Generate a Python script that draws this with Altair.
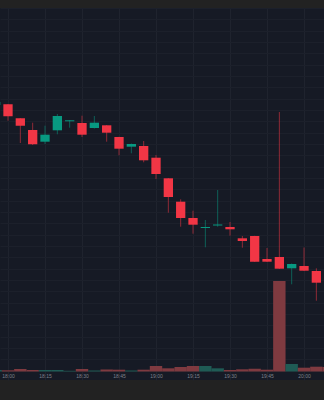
import altair as alt
import pandas as pd

times = ["17:55","18:00","18:05","18:10","18:15","18:20","18:25","18:30","18:35","18:40",
         "18:45","18:50","18:55","19:00","19:05","19:10","19:15","19:20","19:25","19:30",
         "19:35","19:40","19:45","19:50","19:55","20:00","20:05","20:10"]
opens  = [90.30,90.37,88.97,87.80,86.63,87.77,88.67,88.50,88.00,88.27,
          87.10,86.13,86.20,85.03,82.97,80.63,79.00,78.00,78.25,78.10,
          76.97,77.20,74.90,75.10,73.97,74.20,73.70,72.47]
highs  = [90.75,90.40,89.00,88.53,88.23,89.40,88.80,89.23,89.20,88.30,
          87.12,86.45,86.70,85.30,83.00,80.87,79.73,78.80,81.80,78.60,
          77.20,77.22,76.00,89.60,74.45,76.05,73.97,72.50]
lows   = [90.20,88.73,86.50,86.30,86.40,87.37,88.03,87.10,87.95,86.63,
          85.27,85.47,84.57,82.90,79.53,78.13,77.43,76.07,78.13,77.23,
          76.03,74.60,74.60,73.90,72.37,73.70,70.73,69.50]
closes = [90.60,89.17,88.23,86.37,87.33,89.20,88.77,87.33,88.53,87.53,
          85.93,86.40,84.77,83.40,81.10,79.00,78.33,78.10,78.35,77.87,
          76.70,74.63,74.63,73.93,74.40,73.73,72.53,70.30]
volumes = [15,12,25,15,15,15,7,25,10,20,
           18,10,18,55,32,45,55,55,32,15,
           22,28,18,905,75,38,48,45]

tick_minutes = [0, 15, 30, 45, 60, 75, 90, 105, 120]
tick_labels = ["18:00","18:15","18:30","18:45","19:00","19:15","19:30","19:45","20:00"]

def to_min(t):
    h, m = t.split(":")
    return (int(h) - 18) * 60 + int(m)

df = pd.DataFrame({
    "t": [to_min(t) for t in times],
    "label": times,
    "open": opens, "high": highs, "low": lows, "close": closes, "volume": volumes,
})
df["dir"] = ["up" if c >= o else "down" for o, c in zip(df["open"], df["close"])]

label_expr = ""
for v, l in zip(tick_minutes, tick_labels):
    label_expr += f"datum.value == {v} ? '{l}' : "
label_expr += "''"

xscale = alt.Scale(domain=[-3.243, 128.1], nice=False, zero=False, padding=0)
xaxis = alt.Axis(values=tick_minutes, labelExpr=label_expr, grid=True, gridColor="#1f232e",
                 ticks=False, domain=False, labelFontSize=5, labelFont="Liberation Sans",
                 labelColor="#7d808a", labelPadding=1, offset=-8, title=None)

price_grid = [round(100 - k * 1.133, 3) for k in range(0, 34)]
yscale = alt.Scale(domain=[62.8, 100], nice=False, zero=False, padding=0)
yaxis = alt.Axis(values=price_grid, grid=True, gridColor="#1c202b", labels=False,
                 ticks=False, domain=False, title=None)

up_down = ["up", "down"]
body_colors = alt.Scale(domain=up_down, range=["#089981", "#f23645"])

base = alt.Chart(df)

vol = base.mark_bar(size=12.4, clip=True).encode(
    x=alt.X("t:Q", scale=xscale, axis=xaxis),
    y=alt.Y("volume:Q", scale=alt.Scale(domain=[-85, 3635], nice=False, padding=0), axis=None),
    color=alt.Color("dir:N", scale=alt.Scale(domain=up_down, range=["#1f5b55", "#7f3a40"]), legend=None),
)

wick = base.mark_rule(strokeWidth=1, opacity=0.55, clip=True).encode(
    x=alt.X("t:Q", scale=xscale, axis=xaxis),
    y=alt.Y("low:Q", scale=yscale, axis=yaxis),
    y2="high:Q",
    color=alt.Color("dir:N", scale=body_colors, legend=None),
)

body = base.mark_bar(size=9.3, clip=True).encode(
    x=alt.X("t:Q", scale=xscale, axis=xaxis),
    y=alt.Y("open:Q", scale=yscale, axis=yaxis),
    y2="close:Q",
    color=alt.Color("dir:N", scale=body_colors, legend=None),
)

price = alt.layer(wick, body)

chart = alt.layer(vol, price).resolve_scale(y="independent", color="independent").properties(
    width=324, height=372,
    autosize=alt.AutoSizeParams(type="none"),
    padding={"top": 8, "bottom": 20, "left": 0, "right": 0},
    background="#222222",
).configure_view(fill="#161a25", stroke=None)

chart.save("out.html", embed_options={"renderer": "svg", "actions": False})
